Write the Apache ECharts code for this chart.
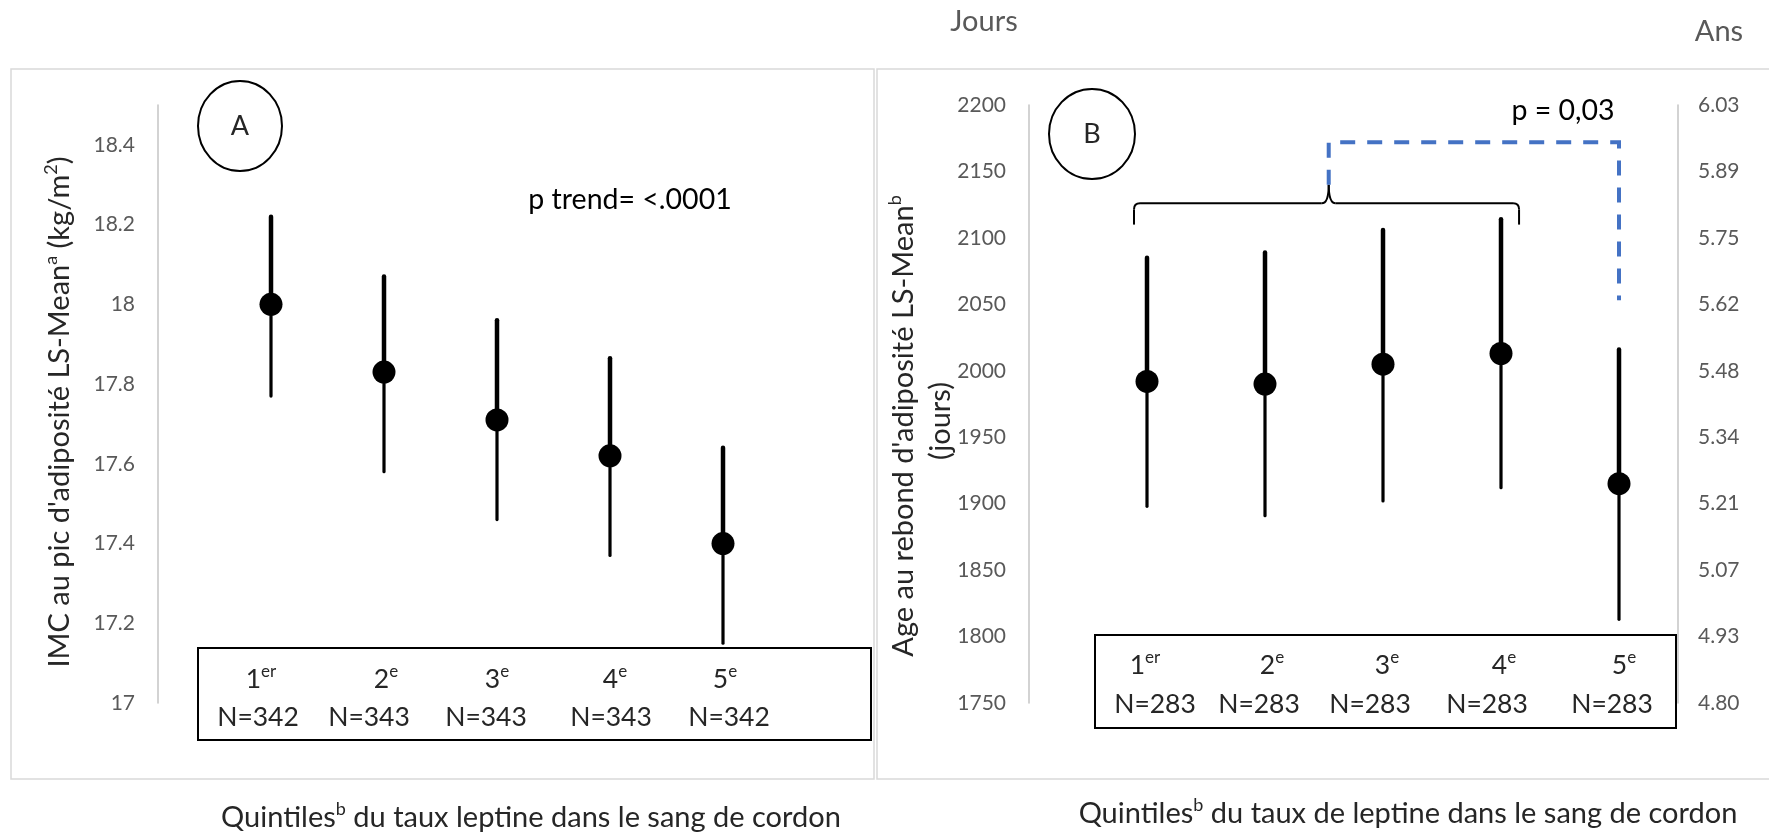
<!DOCTYPE html>
<html>
<head>
<meta charset="utf-8">
<script src="https://cdn.jsdelivr.net/npm/echarts@6/dist/echarts.min.js"></script>
<style>
  html, body { margin: 0; padding: 0; background: #fff; }
  #chart { width: 1769px; height: 835px; }
</style>
</head>
<body>
<div id="chart"></div>
<script>
// ---- Data ----
const quintilePos = [1, 2, 3, 4, 5];
const quintileNum = ['1', '2', '3', '4', '5'];
const quintileSup = ['er', 'e', 'e', 'e', 'e'];

// Panel A: BMI at adiposity peak (LS-mean and 95% CI)
const imcMean = [18.00, 17.83, 17.71, 17.62, 17.40];
const imcLow  = [17.77, 17.58, 17.46, 17.37, 17.15];
const imcHigh = [18.22, 18.07, 17.96, 17.865, 17.64];
const nA = ['N=342', 'N=343', 'N=343', 'N=343', 'N=342'];
const imcTicks = ['17', '17.2', '17.4', '17.6', '17.8', '18', '18.2', '18.4'];

// Panel B: age at adiposity rebound in days (LS-mean and 95% CI)
const ageMean = [1992, 1990, 2005, 2013, 1915];
const ageLow  = [1898, 1891, 1902, 1912, 1813];
const ageHigh = [2085, 2089, 2106, 2114, 2016];
const nB = ['N=283', 'N=283', 'N=283', 'N=283', 'N=283'];
const joursTicks = [1750, 1800, 1850, 1900, 1950, 2000, 2050, 2100, 2150, 2200];
const ansTicks = ['4.80', '4.93', '5.07', '5.21', '5.34', '5.48', '5.62', '5.75', '5.89', '6.03'];

// ---- Styling ----
const FONT = 'Lato, "Open Sans", sans-serif';
const TICK_COLOR = '#595959';
const TEXT_COLOR = '#262626';
const AXIS_GREY = '#c4c4c4';
const TITLE_SIZE = 29;
const TITLE_SUP = 18;
const BOX_SIZE = 26.5;
const BOX_SUP = 17;

const chart = echarts.init(document.getElementById('chart'));

function tickLabel(labels, v) {
  const hit = labels.find(l => Math.abs(parseFloat(l) - v) < 1e-6);
  return hit === undefined ? '' : hit;
}

function valueAxis(gridIndex, min, max, interval, position, formatter, margin) {
  return {
    type: 'value', gridIndex, min, max, interval, position,
    axisLine: { show: true, lineStyle: { color: AXIS_GREY, width: 1.5 } },
    axisTick: { show: false },
    splitLine: { show: false },
    axisLabel: {
      margin, color: TICK_COLOR, fontSize: 21, fontFamily: FONT, formatter
    }
  };
}

// Error bar: thicker upper arm, thinner lower arm, no caps
function errorBar(params, api) {
  const x = api.value(0);
  const pm = api.coord([x, api.value(1)]);
  const pl = api.coord([x, api.value(2)]);
  const ph = api.coord([x, api.value(3)]);
  return {
    type: 'group',
    children: [
      { type: 'line', shape: { x1: ph[0], y1: ph[1], x2: pm[0], y2: pm[1] },
        style: { stroke: '#000', lineWidth: 4.5, lineCap: 'round' } },
      { type: 'line', shape: { x1: pm[0], y1: pm[1], x2: pl[0], y2: pl[1] },
        style: { stroke: '#000', lineWidth: 3.2, lineCap: 'round' } }
    ]
  };
}

const barsA = quintilePos.map((x, i) => [x, imcMean[i], imcLow[i], imcHigh[i]]);
const barsB = quintilePos.map((x, i) => [x, ageMean[i], ageLow[i], ageHigh[i]]);
const dotStyle = { color: '#000', opacity: 1 };

chart.setOption({
  animation: false,
  backgroundColor: '#ffffff',
  grid: [
    { left: 158, top: 105, width: 678, height: 598 },
    { left: 1029, top: 105, width: 649, height: 598 }
  ],
  xAxis: [
    { type: 'value', gridIndex: 0, min: 0, max: 6, show: false },
    { type: 'value', gridIndex: 1, min: 0, max: 5.5, show: false }
  ],
  yAxis: [
    valueAxis(0, 17, 18.5, 0.2, 'left', v => tickLabel(imcTicks, v), 23),
    valueAxis(1, 1750, 2200, 50, 'left', v => String(v), 23),
    valueAxis(1, 1750, 2200, 50, 'right', v => ansTicks[joursTicks.indexOf(v)] || '', 20)
  ],
  series: [
    { type: 'custom', xAxisIndex: 0, yAxisIndex: 0, renderItem: errorBar, data: barsA, silent: true, z: 2 },
    { type: 'scatter', xAxisIndex: 0, yAxisIndex: 0, symbolSize: 23, itemStyle: dotStyle,
      data: quintilePos.map((x, i) => [x, imcMean[i]]), silent: true, z: 3 },
    { type: 'custom', xAxisIndex: 1, yAxisIndex: 1, renderItem: errorBar, data: barsB, silent: true, z: 2 },
    { type: 'scatter', xAxisIndex: 1, yAxisIndex: 1, symbolSize: 23, itemStyle: dotStyle,
      data: quintilePos.map((x, i) => [x, ageMean[i]]), silent: true, z: 3 }
  ]
});

// ---- Annotations ----
const pxB = (x, y) => chart.convertToPixel({ gridIndex: 1 }, [x, y]);

function txt(x, y, text, size, color, extra) {
  return Object.assign({
    type: 'text', x, y, silent: true, z: 20,
    style: { text, fontSize: size, fontFamily: FONT, fill: color, align: 'center', verticalAlign: 'middle' }
  }, extra || {});
}

function supTxt(x, y, base, sup, size, supSize, color, rotation) {
  return {
    type: 'text', x, y, silent: true, z: 20, rotation: rotation || 0,
    style: {
      text: base.map((b, i) => `{b|${b}}` + (sup[i] ? `{s|${sup[i]}}` : '')).join(''),
      fontSize: size, fontFamily: FONT, fill: color, align: 'center', verticalAlign: 'middle',
      rich: {
        b: { fontSize: size, fontFamily: FONT, fill: color, lineHeight: size + 6 },
        s: { fontSize: supSize, fontFamily: FONT, fill: color, lineHeight: supSize + 1, verticalAlign: 'top' }
      }
    }
  };
}

function frame(x, y, w, h, stroke, lw) {
  return { type: 'rect', silent: true, z: 1, shape: { x, y, width: w, height: h },
           style: { fill: 'none', stroke, lineWidth: lw } };
}

function ellipse(cx, cy, rx, ry) {
  return { type: 'ellipse', silent: true, z: 10, shape: { cx, cy, rx, ry },
           style: { fill: '#fff', stroke: '#000', lineWidth: 2 } };
}

const g = [];
// Panel frames
g.push(frame(11, 69, 863, 710, '#d9d9d9', 1.5));
g.push(frame(877, 69, 895, 710, '#d9d9d9', 1.5));

// Unit captions for panel B
g.push(txt(984, 22, 'Jours', TITLE_SIZE, TICK_COLOR));
g.push(txt(1719, 32, 'Ans', TITLE_SIZE, TICK_COLOR));

// Y-axis titles
g.push(supTxt(60, 412, ['IMC au pic d\'adiposité LS-Mean', ' (kg/m', ')'], ['a', '2', ''],
              TITLE_SIZE, TITLE_SUP, TEXT_COLOR, Math.PI / 2));
g.push(supTxt(904, 426, ['Age au rebond d\'adiposité LS-Mean'], ['b'],
              TITLE_SIZE, TITLE_SUP, TEXT_COLOR, Math.PI / 2));
g.push(txt(941, 421, '(jours)', TITLE_SIZE, TEXT_COLOR, { rotation: Math.PI / 2 }));

// X-axis titles
g.push(supTxt(531, 818, ['Quintiles', ' du taux leptine dans le sang de cordon'], ['b', ''],
              TITLE_SIZE, TITLE_SUP, TEXT_COLOR));
g.push(supTxt(1408, 814, ['Quintiles', ' du taux de leptine dans le sang de cordon'], ['b', ''],
              TITLE_SIZE, TITLE_SUP, TEXT_COLOR));

// Panel letters
g.push(ellipse(240, 126, 42, 45));
g.push(txt(240, 126, 'A', 27, TEXT_COLOR));
g.push(ellipse(1092, 134, 43, 45));
g.push(txt(1092, 134, 'B', 27, TEXT_COLOR));

// p-values
g.push(txt(630, 200, 'p trend= <.0001', 28.5, '#000'));
g.push(txt(1563, 111, 'p = 0,03', 28.5, '#000'));

// Quintile boxes with group sizes
const ordA = [261, 386, 497, 615, 725], nxA = [258, 369, 486, 611, 729];
const ordB = [1145, 1272, 1387, 1504, 1624], nxB = [1155, 1259, 1370, 1487, 1612];
g.push(frame(198, 648, 673, 92, '#000', 2));
g.push(frame(1095, 635, 581, 93, '#000', 2));
quintileNum.forEach((q, i) => {
  g.push(supTxt(ordA[i], 679, [q], [quintileSup[i]], BOX_SIZE, BOX_SUP, TEXT_COLOR));
  g.push(txt(nxA[i], 717, nA[i], BOX_SIZE, TEXT_COLOR));
  g.push(supTxt(ordB[i], 665, [q], [quintileSup[i]], BOX_SIZE, BOX_SUP, TEXT_COLOR));
  g.push(txt(nxB[i], 704, nB[i], BOX_SIZE, TEXT_COLOR));
});

// Curly brace grouping quintiles 1-4 (panel B)
const bL = pxB(0.89, 2126), bR = pxB(4.153, 2126), bTip = pxB(2.54, 2140);
const bEnd = pxB(0.89, 2110)[1];
const by = bL[1], r = 6;
const braceStyle = { stroke: '#000', lineWidth: 2, fill: 'none' };
const seg = (shape, type) => ({ type: type || 'line', silent: true, z: 11, shape, style: braceStyle });
g.push(seg({ x1: bL[0], y1: bEnd, x2: bL[0], y2: by + r }));
g.push(seg({ x1: bL[0], y1: by + r, cpx1: bL[0], cpy1: by, x2: bL[0] + r, y2: by }, 'bezierCurve'));
g.push(seg({ x1: bL[0] + r, y1: by, x2: bTip[0] - 7, y2: by }));
g.push(seg({ x1: bTip[0] - 7, y1: by, cpx1: bTip[0], cpy1: by, x2: bTip[0], y2: bTip[1] }, 'bezierCurve'));
g.push(seg({ x1: bTip[0], y1: bTip[1], cpx1: bTip[0], cpy1: by, x2: bTip[0] + 7, y2: by }, 'bezierCurve'));
g.push(seg({ x1: bTip[0] + 7, y1: by, x2: bR[0] - r, y2: by }));
g.push(seg({ x1: bR[0] - r, y1: by, cpx1: bR[0], cpy1: by, x2: bR[0], y2: by + r }, 'bezierCurve'));
g.push(seg({ x1: bR[0], y1: by + r, x2: bR[0], y2: bEnd }));

// Dashed comparison bracket: quintiles 1-4 vs quintile 5
g.push({
  type: 'polyline', silent: true, z: 11,
  shape: { points: [bTip, pxB(2.54, 2172), pxB(5, 2172), pxB(5, 2053)] },
  style: { stroke: '#4472C4', lineWidth: 4, lineDash: [15, 12], fill: 'none' }
});

chart.setOption({ graphic: g });
</script>
</body>
</html>
